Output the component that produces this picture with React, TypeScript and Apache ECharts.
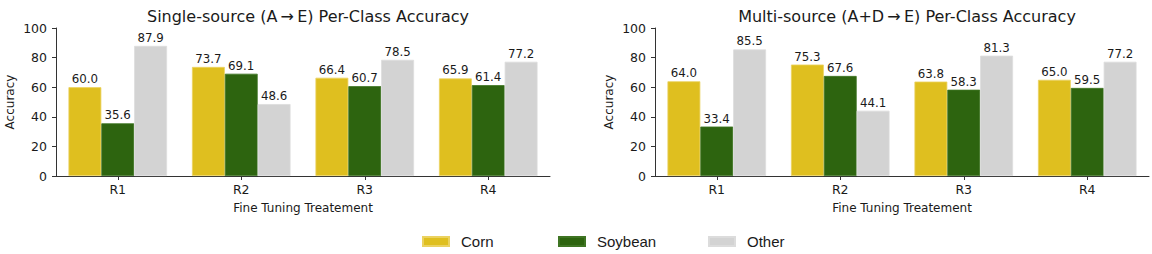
import React, { useEffect, useRef } from "react";
import * as echarts from "echarts";

const categories = ["R1", "R2", "R3", "R4"];
const classNames = ["Corn", "Soybean", "Other"];
const singleCorn = [60.0, 73.7, 66.4, 65.9];
const singleSoybean = [35.6, 69.1, 60.7, 61.4];
const singleOther = [87.9, 48.6, 78.5, 77.2];
const multiCorn = [64.0, 75.3, 63.8, 65.0];
const multiSoybean = [33.4, 67.6, 58.3, 59.5];
const multiOther = [85.5, 44.1, 81.3, 77.2];
const yTicks = { min: 0, max: 100, interval: 20 };
const titles = [
  "Single-source (A\u2009\u2192\u2009E) Per-Class Accuracy",
  "Multi-source (A+D\u2009\u2192\u2009E) Per-Class Accuracy",
];

const colors = ["#DFBF1F", "#2D640F", "#D3D3D3"];
const borders = ["#EBD260", "#3F7523", "#DCDCDC"];
const FONT = "DejaVu Sans";
const INK = "#1a1a1a";

export default function App() {
  const ref = useRef<HTMLDivElement>(null);
  useEffect(() => {
    document.body.style.margin = "0";
    const chart = echarts.init(ref.current!, null, { renderer: "svg" });
    const grids = [
      { left: 56, top: 28, width: 494, height: 148 },
      { left: 655, top: 28, width: 494, height: 148 },
    ];
    const xAxis = grids.map((_, i) => ({
      type: "category",
      gridIndex: i,
      data: categories,
      name: "Fine Tuning Treatement",
      nameLocation: "middle",
      nameGap: 26,
      nameTextStyle: { fontFamily: FONT, fontSize: 12, color: INK },
      axisLine: { show: true, lineStyle: { color: "#333", width: 1 } },
      axisTick: { show: true, alignWithLabel: true, length: 4, lineStyle: { color: "#333" } },
      axisLabel: { fontFamily: FONT, fontSize: 12.5, color: INK, margin: 7 },
      splitLine: { show: false },
    }));
    const yAxis = grids.map((_, i) => ({
      type: "value",
      gridIndex: i,
      min: yTicks.min,
      max: yTicks.max,
      interval: yTicks.interval,
      name: "Accuracy",
      nameLocation: "middle",
      nameGap: 40,
      nameTextStyle: { fontFamily: FONT, fontSize: 12, color: INK },
      axisLine: { show: true, lineStyle: { color: "#333", width: 1 } },
      axisTick: { show: true, length: 4, lineStyle: { color: "#333" } },
      axisLabel: { fontFamily: FONT, fontSize: 12.5, color: INK, margin: 9 },
      splitLine: { show: false },
    }));
    const sets = [
      [singleCorn, singleSoybean, singleOther],
      [multiCorn, multiSoybean, multiOther],
    ];
    const series: any[] = [];
    sets.forEach((set, gi) => {
      set.forEach((vals, si) => {
        series.push({
          type: "bar",
          name: classNames[si],
          xAxisIndex: gi,
          yAxisIndex: gi,
          data: vals,
          barWidth: "26.6%",
          barGap: "0%",
          itemStyle: { color: colors[si], borderColor: borders[si], borderWidth: 0.8 },
          label: {
            show: true,
            position: "top",
            distance: 2,
            fontFamily: FONT,
            fontSize: 11.8,
            color: INK,
            formatter: (p: any) => Number(p.value).toFixed(1),
          },
        });
      });
    });
    const legendLefts = [422, 558, 708];
    const legend = classNames.map((n, i) => ({
      data: [n],
      left: legendLefts[i],
      top: 234,
      padding: 0,
      orient: "horizontal",
      itemWidth: 26,
      itemHeight: 9,
      icon: "rect",
      selectedMode: false,
      textStyle: {
        fontFamily: "Liberation Sans",
        fontSize: 15,
        color: INK,
        padding: [0, 0, 0, 7],
      },
    }));
    chart.setOption({
      animation: false,
      color: colors,
      title: titles.map((t, i) => ({
        text: t,
        left: grids[i].left + grids[i].width / 2,
        top: 3,
        textAlign: "center",
        textStyle: { fontFamily: FONT, fontSize: 16, fontWeight: "normal", color: INK },
      })),
      grid: grids,
      xAxis,
      yAxis,
      legend,
      series,
    });
    return () => chart.dispose();
  }, []);
  return (
    <div
      ref={ref}
      style={{ position: "absolute", left: 0, top: 0, width: 1152, height: 254, background: "#fff" }}
    />
  );
}
